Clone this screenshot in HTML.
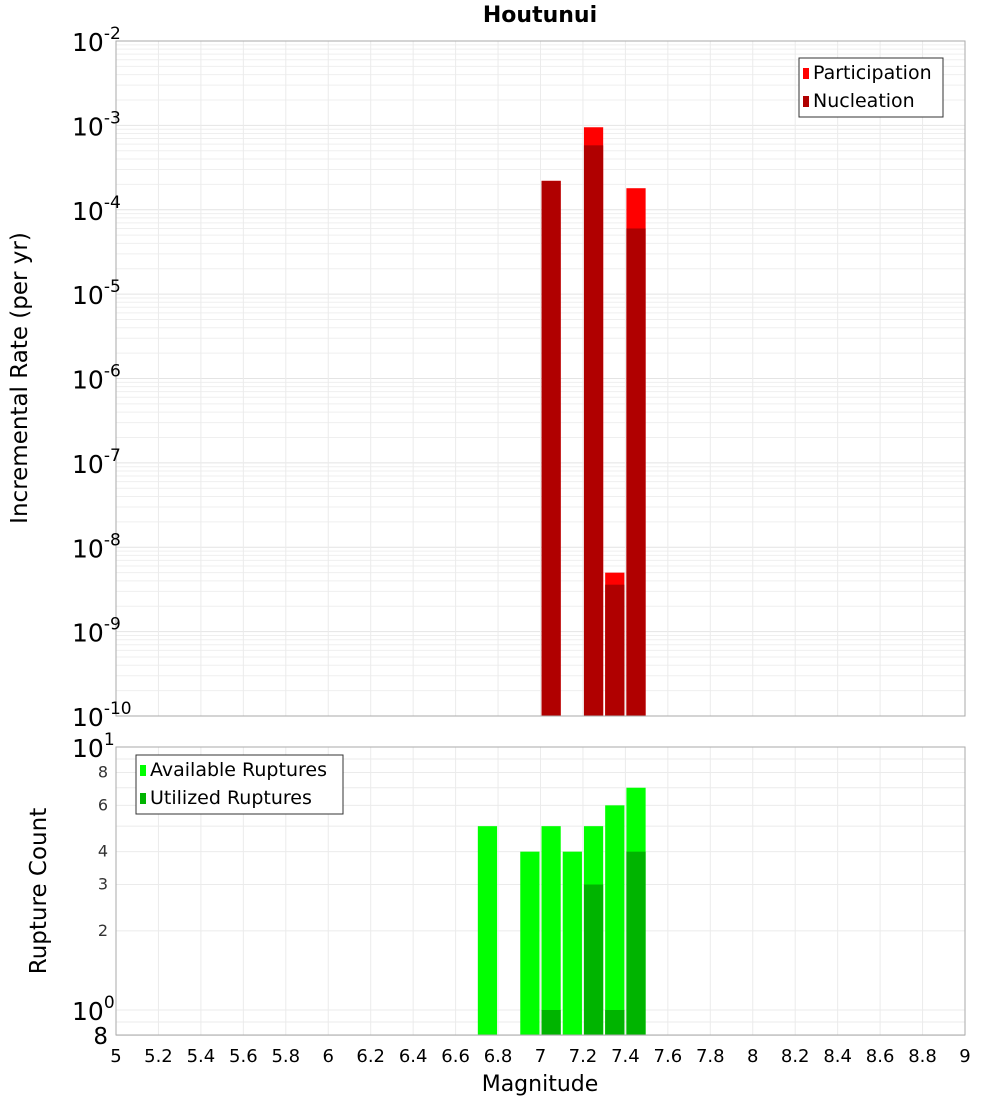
<!DOCTYPE html>
<html><head><meta charset="utf-8"><style>
body{margin:0;background:#fff;font-family:"Liberation Sans","DejaVu Sans",sans-serif}
svg text{font-family:"DejaVu Sans","Liberation Sans",sans-serif}
</style></head><body>
<svg id="c" width="1000" height="1100" xmlns="http://www.w3.org/2000/svg"></svg>
<script>
const mags = [6.75, 6.95, 7.05, 7.15, 7.25, 7.35, 7.45];
const participation = [0, 0, 2.2e-4, 0, 9.5e-4, 5e-9, 1.8e-4];
const nucleation = [0, 0, 2.2e-4, 0, 5.8e-4, 3.6e-9, 6e-5];
const available = [5, 4, 5, 4, 5, 6, 7];
const utilized = [0, 0, 1, 0, 3, 1, 4];
const xTicks = [5,5.2,5.4,5.6,5.8,6,6.2,6.4,6.6,6.8,7,7.2,7.4,7.6,7.8,8,8.2,8.4,8.6,8.8,9];
const topExps = [-2,-3,-4,-5,-6,-7,-8,-9,-10];
const botMinorLabels = [8,6,4,3,2];

const NS="http://www.w3.org/2000/svg";
const svg=document.getElementById('c');
function el(tag,attrs,parent){const e=document.createElementNS(NS,tag);for(const k in attrs)e.setAttribute(k,attrs[k]);(parent||svg).appendChild(e);return e;}
const X0=116,X1=965;
const x=m=>X0+(m-5)/4*(X1-X0);
const T0=41,T1=716;
const yT=v=>T0+(-2-Math.log10(v))/8*(T1-T0);
const B0=747,B1=1035;
const yB=v=>B0+(1-Math.log10(v))*263;

const gTop=el('g',{});


for(let e=-10;e<-2;e++)for(let k=1;k<10;k++){const y=yT(k*Math.pow(10,e));el('line',{x1:X0,x2:X1,y1:y,y2:y,stroke:k==1?'#e4e4e4':'#efefef','stroke-width':1},gTop);}
xTicks.forEach(t=>{el('line',{x1:x(t),x2:x(t),y1:T0,y2:T1,stroke:'#ebebeb'},gTop);el('line',{x1:x(t),x2:x(t),y1:B0,y2:B1,stroke:'#ebebeb'},gTop);});
for(let v of [0.8,0.9,1,2,3,4,5,6,7,8,9]){const y=yB(v);el('line',{x1:X0,x2:X1,y1:y,y2:y,stroke:'#ebebeb'},gTop);}

mags.forEach((m,i)=>{
 if(participation[i]>0){const r=el('rect',{x:x(m-0.05)+1,width:x(m+0.05)-x(m-0.05)-2,y:yT(participation[i]),height:T1-yT(participation[i]),fill:'#ff0000'});
 }
 if(nucleation[i]>0){const r=el('rect',{x:x(m-0.05)+1,width:x(m+0.05)-x(m-0.05)-2,y:yT(nucleation[i]),height:T1-yT(nucleation[i]),fill:'#b00000'});
 }
});
mags.forEach((m,i)=>{
 if(available[i]>0){const r=el('rect',{x:x(m-0.05)+1,width:x(m+0.05)-x(m-0.05)-2,y:yB(available[i]),height:B1-yB(available[i]),fill:'#00ff00'});
 }
 if(utilized[i]>0){const r=el('rect',{x:x(m-0.05)+1,width:x(m+0.05)-x(m-0.05)-2,y:yB(utilized[i]),height:B1-yB(utilized[i]),fill:'#00b400'});
 }
});
let f=el('rect',{x:X0,y:T0,width:X1-X0,height:T1-T0,fill:'none',stroke:'#aaa'});

f=el('rect',{x:X0,y:B0,width:X1-X0,height:B1-B0,fill:'none',stroke:'#aaa'});


topExps.forEach(e=>{const y=yT(Math.pow(10,e));const t=el('text',{x:72,y:y+10,'font-size':25,fill:'#000'});
 
 t.innerHTML='10<tspan dy="-12" font-size="17">'+e+'</tspan>';});
[[10,1],[1,0]].forEach(([v,e])=>{const t=el('text',{x:72,y:yB(v)+10,'font-size':25,fill:'#000'});
 
 t.innerHTML='10<tspan dy="-12" font-size="17">'+e+'</tspan>';});
botMinorLabels.forEach(v=>{const t=el('text',{x:108,y:yB(v)+5,'text-anchor':'end','font-size':16,fill:'#333'});
 t.textContent=v;});
{const t=el('text',{x:108,y:B1+9,'text-anchor':'end','font-size':23,fill:'#000'});t.textContent='8';}
xTicks.forEach(v=>{const t=el('text',{x:x(v),y:1062,'text-anchor':'middle','font-size':18,fill:'#000'});
 t.textContent=v;});

let t=el('text',{x:540,y:22,'text-anchor':'middle','font-size':22,'font-weight':'bold'});t.textContent='Houtunui';
t=el('text',{x:540,y:1091,'text-anchor':'middle','font-size':22});t.textContent='Magnitude';
t=el('text',{x:0,y:0,'text-anchor':'middle','font-size':23,transform:'translate(27,378) rotate(-90)'});t.textContent='Incremental Rate (per yr)';
t=el('text',{x:0,y:0,'text-anchor':'middle','font-size':23,transform:'translate(46,891) rotate(-90)'});t.textContent='Rupture Count';

function legend(x0,y0,w,h,items,name){const g=el('g',{});
 el('rect',{x:x0,y:y0,width:w,height:h,fill:'#fff',stroke:'#333'},g);
 items.forEach(([lab,col],i)=>{el('rect',{x:x0+4,y:y0+10+i*28,width:6,height:11,fill:col},g);
 const tt=el('text',{x:x0+14,y:y0+21+i*28,'font-size':19},g);tt.textContent=lab;});}
legend(799,58,144,59,[['Participation','#ff0000'],['Nucleation','#b00000']],'top-legend');
legend(136,755,207,59,[['Available Ruptures','#00ff00'],['Utilized Ruptures','#00b400']],'bottom-legend');
</script>
</body></html>
